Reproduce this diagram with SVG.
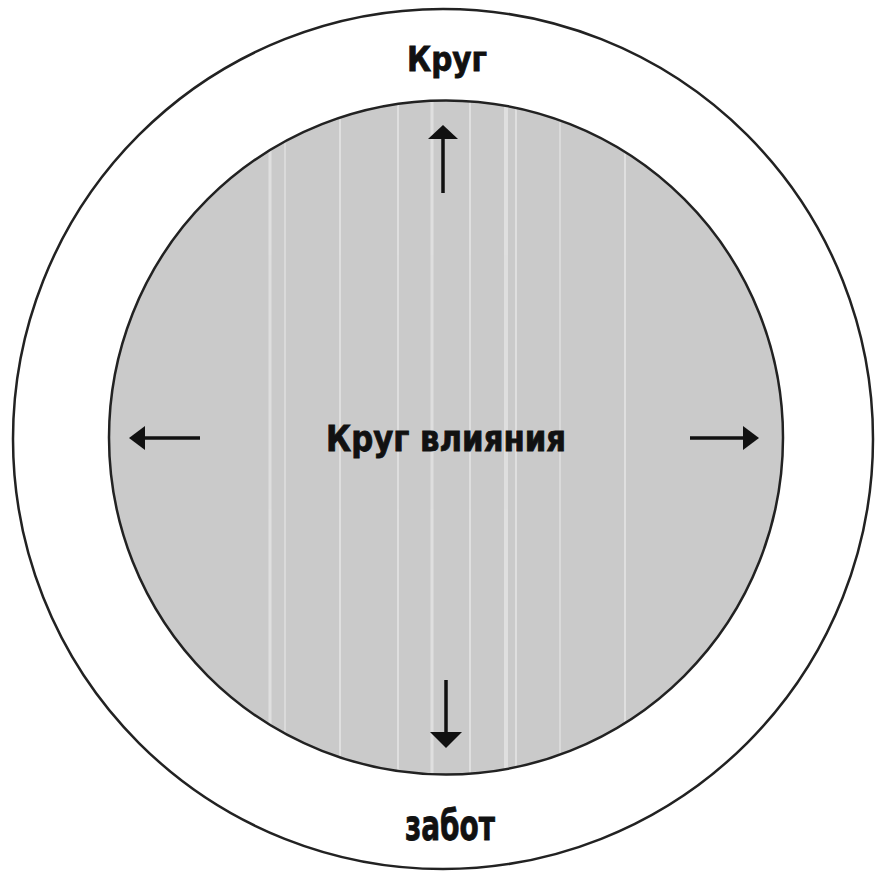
<svg xmlns="http://www.w3.org/2000/svg" width="877" height="871" viewBox="0 0 877 871">
<style>
.lbl{font-family:"DejaVu Sans Condensed","DejaVu Sans","Liberation Sans",sans-serif;font-weight:bold;fill:#111;stroke:#111;stroke-width:0.8;text-anchor:middle}
.circ{stroke:#222;stroke-width:2.5}
.arr{stroke:#111;stroke-width:3.5;fill:none}
.head{fill:#111}
.streak{stroke:#e4e4e4;stroke-width:3;opacity:0.8}
</style>
<defs>
<clipPath id="innerClip"><circle cx="446" cy="437.5" r="337"/></clipPath>
</defs>
<rect width="877" height="871" fill="#fff"/>
<g id="outer">
<circle class="circ" cx="443" cy="439" r="430" fill="#fff"/>
<text class="lbl" x="447" y="71" font-size="34" textLength="80" lengthAdjust="spacingAndGlyphs">Круг</text>
<text class="lbl" x="450" y="840" font-size="42" textLength="90" lengthAdjust="spacingAndGlyphs">забот</text>
</g>
<g id="inner">
<circle cx="446" cy="437.5" r="337" fill="#cacaca"/>
<g clip-path="url(#innerClip)">
<line class="streak" x1="270" y1="90" x2="270" y2="790"/>
<line class="streak" x1="285" y1="90" x2="285" y2="790" style="stroke-width:1.5"/>
<line class="streak" x1="340" y1="90" x2="340" y2="790" style="stroke-width:2"/>
<line class="streak" x1="398" y1="90" x2="398" y2="790" style="stroke-width:2"/>
<line class="streak" x1="432" y1="90" x2="432" y2="790"/>
<line class="streak" x1="470" y1="90" x2="470" y2="790" style="stroke-width:2"/>
<line class="streak" x1="506" y1="90" x2="506" y2="790" style="stroke-width:4"/>
<line class="streak" x1="516" y1="90" x2="516" y2="790" style="stroke-width:2"/>
<line class="streak" x1="560" y1="90" x2="560" y2="790" style="stroke-width:1.5"/>
<line class="streak" x1="625" y1="90" x2="625" y2="790" style="stroke-width:2"/>
</g>
<circle class="circ" cx="446" cy="437.5" r="337" fill="none"/>
<text class="lbl" x="446" y="451" font-size="35" textLength="240" lengthAdjust="spacingAndGlyphs">Круг влияния</text>
</g>
<g id="connectors">
<line class="arr" x1="443" y1="193" x2="443" y2="134"/>
<polygon class="head" points="443,125 428,139 458,139"/>
<line class="arr" x1="446" y1="680" x2="446" y2="738"/>
<polygon class="head" points="446,748 430,732 462,732"/>
<line class="arr" x1="200" y1="438" x2="138" y2="438"/>
<polygon class="head" points="129,438 145,426 145,450"/>
<line class="arr" x1="690" y1="438" x2="750" y2="438"/>
<polygon class="head" points="759,438 743,426 743,450"/>
</g>
</svg>
